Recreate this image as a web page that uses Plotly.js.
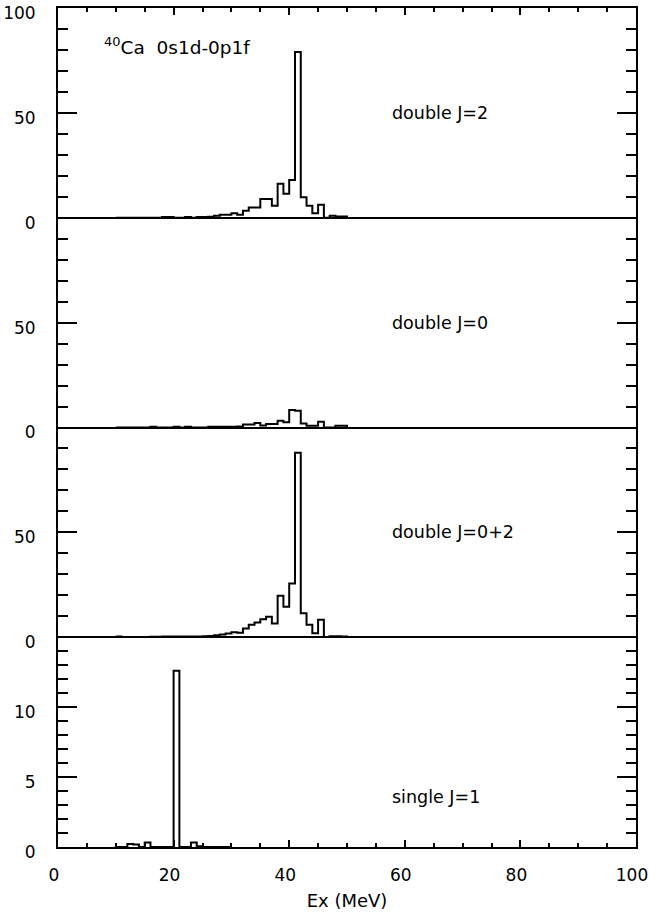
<!DOCTYPE html>
<html>
<head>
<meta charset="utf-8">
<script src="https://cdn.plot.ly/plotly-3.0.1.min.js"></script>
<style>html,body{margin:0;padding:0;background:#fff;}#chart{width:649px;height:918px;}</style>
</head>
<body>
<div id="chart"></div>
<script>
// Histogram bins: 1 MeV wide, left edges starting at binStart
const binStart = 10;
const binWidth = 1;
// double J=2 (bins 10..49 MeV)
const doubleJ2 = [0,0,0,0,0,0,0,0,0.3,0.3, 0,0,0.3,0,0.3,0.3,0.5,1.0,1.4,1.4,
                  2.2,1.4,3.3,4.9,4.9,8.9,8.9,5.7,16.2,11.4, 18,79,9.8,5.7,2.2,6.2,0,1.0,0.6,0.6];
// double J=0
const doubleJ0 = [0,0,0,0,0,0,0.3,0,0,0, 0.3,0,0.3,0,0,0,0.3,0.3,0.3,0.3,
                  0.3,0.5,1.4,1.4,2.2,1.0,1.7,1.7,3.2,2.5, 8.3,8.0,1.9,0.8,0.8,2.7,0,0,0.8,0.8];
// double J=0+2
const doubleJ02 = [0.4,0,0,0,0,0,0.2,0.2,0.3,0.3, 0.3,0.3,0.4,0.4,0.4,0.5,0.6,0.9,1.3,1.8,
                   2.4,2.2,4.2,6.0,7.0,8.6,9.8,6.5,19.8,14.5, 25.6,88,11.5,5.9,1.9,8.3,0,0.5,0.5,0.3];
// single J=1
const singleJ1 = [0,0,0.21,0.17,0,0.33,0,0,0,0, 12.6,0,0,0.33,0.05,0,0,0,0,0];

const xTickVals = [0,20,40,60,80,100];
const panelLabels = ['double J=2','double J=0','double J=0+2','single J=1'];
const titleText = '<sup>40</sup>Ca  0s1d-0p1f';

function steps(vals){
  const xs = [], ys = [];
  for (let i = 0; i < vals.length; i++){ xs.push(binStart + i*binWidth); ys.push(vals[i]); }
  xs.push(binStart + vals.length*binWidth); ys.push(vals[vals.length-1]);
  xs.push(binStart + vals.length*binWidth); ys.push(0);
  return {xs, ys};
}

const series = [doubleJ2, doubleJ0, doubleJ02, singleJ1];
const suffix = ['', '2', '3', '4'];
const traces = series.map((v, i) => {
  const s = steps(v);
  return {x: s.xs, y: s.ys, type: 'scatter', mode: 'lines',
          line: {shape: 'hv', color: '#000', width: 2},
          xaxis: 'x' + suffix[i], yaxis: 'y' + suffix[i], hoverinfo: 'skip', showlegend: false};
});

const FONT = 'DejaVu Sans, sans-serif';
const tickFont = {family: FONT, size: 17, color: '#000'};

function yax(domain, range, tickvals, minorDtick, xanchor){
  return {domain, range, tickmode: 'array', tickvals, ticktext: tickvals.map(String),
    ticks: 'inside', ticklen: 19, tickwidth: 2, tickcolor: '#000',
    minor: {tickmode: 'linear', tick0: 0, dtick: minorDtick, ticks: 'inside', ticklen: 10, tickwidth: 2, tickcolor: '#000', showgrid: false},
    showline: true, linewidth: 2, linecolor: '#000', mirror: 'ticks',
    showgrid: false, zeroline: true, zerolinewidth: 2, zerolinecolor: '#000',
    tickfont: tickFont, ticklabelstandoff: 17, ticklabelshift: 5, ticklabeloverflow: 'allow',
    anchor: xanchor, fixedrange: true};
}
function xax(anchor, opts){
  return Object.assign({domain: [0,1], range: [0,100], anchor, showgrid: false, zeroline: false,
    tickmode: 'array', tickvals: xTickVals, ticktext: xTickVals.map(String),
    ticks: 'inside', ticklen: 7, tickwidth: 2, tickcolor: '#000',
    minor: {tickmode: 'linear', tick0: 0, dtick: 5, ticks: 'inside', ticklen: 4, tickwidth: 2, tickcolor: '#000', showgrid: false},
    showline: true, linewidth: 2, linecolor: '#000', tickfont: tickFont, ticklabeloverflow: 'allow', fixedrange: true}, opts);
}

const annFont = {family: FONT, size: 17.5, color: '#000'};
const layout = {
  width: 649, height: 918,
  margin: {l: 58, r: 13, t: 8, b: 71},
  paper_bgcolor: '#fff', plot_bgcolor: '#fff',
  showlegend: false,
  xaxis: xax('y', {side: 'top', showticklabels: false}),
  xaxis2: xax('y2', {showline: false, ticks: '', minor: {ticks: ''}, showticklabels: false}),
  xaxis3: xax('y3', {showline: false, ticks: '', minor: {ticks: ''}, showticklabels: false}),
  xaxis4: xax('y4', {ticklabelstandoff: 12, ticklabelshift: -4,
                     title: {text: 'Ex (MeV)', font: {family: FONT, size: 18, color: '#000'}, standoff: 10}}),
  yaxis: yax([0.75, 1], [0, 100], [0, 50, 100], 10, 'x'),
  yaxis2: yax([0.5, 0.75], [0, 100], [0, 50], 10, 'x2'),
  yaxis3: yax([0.25, 0.5], [0, 100], [0, 50], 10, 'x3'),
  yaxis4: yax([0, 0.25], [0, 15], [0, 5, 10], 1, 'x4'),
  annotations: [
    {text: titleText, x: 7.6, y: 82, xref: 'x', yref: 'y', xanchor: 'left', yanchor: 'middle', showarrow: false, font: {family: FONT, size: 18.5, color: '#000'}},
    {text: panelLabels[0], x: 57.5, y: 50, xref: 'x', yref: 'y', xanchor: 'left', yanchor: 'middle', showarrow: false, font: annFont},
    {text: panelLabels[1], x: 57.5, y: 50, xref: 'x2', yref: 'y2', xanchor: 'left', yanchor: 'middle', showarrow: false, font: annFont},
    {text: panelLabels[2], x: 57.5, y: 50, xref: 'x3', yref: 'y3', xanchor: 'left', yanchor: 'middle', showarrow: false, font: annFont},
    {text: panelLabels[3], x: 57.5, y: 3.6, xref: 'x4', yref: 'y4', xanchor: 'left', yanchor: 'middle', showarrow: false, font: annFont}
  ]
};

Plotly.newPlot('chart', traces, layout, {staticPlot: true, displayModeBar: false});
</script>
</body>
</html>
